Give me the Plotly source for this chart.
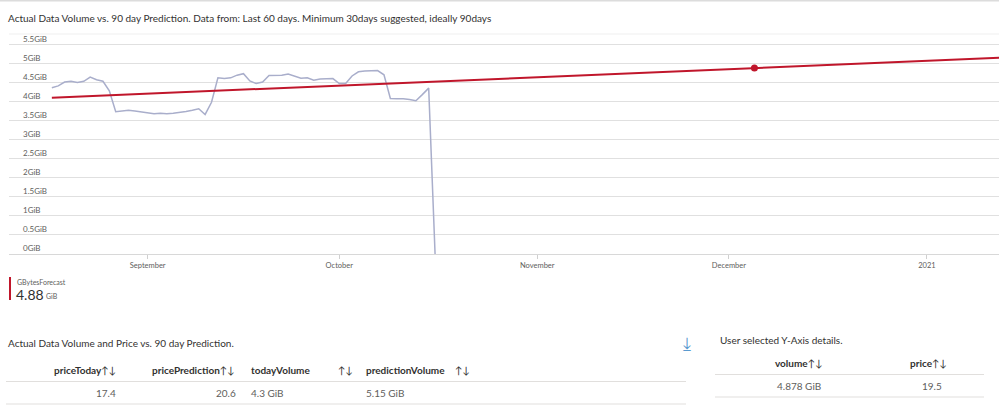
import pandas as pd
import plotly.graph_objects as go

# ---------------- data ----------------
actual_dates = pd.date_range("2020-08-17", periods=61, freq="D")
actual_gib = [4.36, 4.41, 4.51, 4.53, 4.50, 4.53, 4.64, 4.57, 4.53, 4.28,
              3.73, 3.74, 3.77, 3.75, 3.73, 3.70, 3.68, 3.69, 3.68, 3.69,
              3.71, 3.74, 3.77, 3.81, 3.66, 3.98, 4.62, 4.60, 4.62, 4.69,
              4.73, 4.54, 4.47, 4.51, 4.68, 4.69, 4.69, 4.72, 4.66, 4.61,
              4.62, 4.56, 4.59, 4.60, 4.60, 4.47, 4.47, 4.67, 4.78, 4.80,
              4.80, 4.81, 4.70, 4.08, 4.07, 4.07, 4.05, 4.02, 4.18, 4.35, 0.0]

forecast_dates = ["2020-08-17", "2021-01-13"]
forecast_gib = [4.10, 5.15]

selected_date = ["2020-12-05"]
selected_gib = [4.88]

y_tick_vals = [0, 0.5, 1, 1.5, 2, 2.5, 3, 3.5, 4, 4.5, 5, 5.5]
y_tick_text = ["0GiB", "0.5GiB", "1GiB", "1.5GiB", "2GiB", "2.5GiB", "3GiB",
               "3.5GiB", "4GiB", "4.5GiB", "5GiB", "5.5GiB"]
x_tick_vals = ["2020-09-01", "2020-10-01", "2020-11-01", "2020-12-01", "2021-01-01"]
x_tick_text = ["September", "October", "November", "December", "2021"]

chart_title = ("Actual Data Volume vs. 90 day Prediction. Data from: Last 60 days. "
               "Minimum 30days suggested, ideally 90days")
legend_name = "GBytesForecast"
legend_value = "4.88"
legend_unit = "GiB"

table1_title = "Actual Data Volume and Price vs. 90 day Prediction."
table1_headers = ["priceToday", "pricePrediction", "todayVolume", "predictionVolume"]
table1_values = ["17.4", "20.6", "4.3 GiB", "5.15 GiB"]

table2_title = "User selected Y-Axis details."
table2_headers = ["volume", "price"]
table2_values = ["4.878 GiB", "19.5"]

# ---------------- layout helpers ----------------
W, H = 999, 418
L, R, T, B = 9, 0, 28, 164
PW, PH = W - L - R, H - T - B
Y_MAX = 5.5 * PH / (H - B - 44.3)

def px(x):
    return (x - L) / PW

def py(y):
    return (H - B - y) / PH

FONT = "Lato, Open Sans, sans-serif"
DARK = "#323130"
GREY = "#605e5c"
LINE = "#e1dfdd"

fig = go.Figure()
fig.add_trace(go.Scatter(x=actual_dates, y=actual_gib, mode="lines",
                         line=dict(color="#a9aecb", width=1.5),
                         hoverinfo="skip", showlegend=False))
fig.add_trace(go.Scatter(x=forecast_dates, y=forecast_gib, mode="lines",
                         line=dict(color="#c0162b", width=2),
                         hoverinfo="skip", showlegend=False))
fig.add_trace(go.Scatter(x=selected_date, y=selected_gib, mode="markers",
                         marker=dict(color="#c0162b", size=7),
                         hoverinfo="skip", showlegend=False))

ann = []
def text(x, y, s, size, color=DARK, xanchor="left", weight=None, family=FONT):
    if weight:
        s = "<b>" + s + "</b>"
    ann.append(dict(x=px(x), y=py(y), xref="paper", yref="paper", text=s,
                    showarrow=False, xanchor=xanchor, yanchor="middle",
                    font=dict(size=size, color=color, family=family)))

shapes = []
def hline(x0, x1, y, color=LINE, width=1):
    shapes.append(dict(type="line", xref="paper", yref="paper",
                       x0=px(x0), x1=px(x1), y0=py(y), y1=py(y),
                       line=dict(color=color, width=width)))

# top border of page
hline(0, W, 0.5, color="#dcdcdc", width=2)
# faint top edge of chart
hline(L, W, 34, color="#efefef", width=1)
# title
text(6, 18, chart_title, 10)

# legend
shapes.append(dict(type="rect", xref="paper", yref="paper",
                   x0=px(9), x1=px(11), y0=py(277), y1=py(300),
                   fillcolor="#c0162b", line=dict(width=0)))
text(15, 282, legend_name, 7, color=GREY)
text(14, 294, legend_value, 14, color=DARK)
text(44, 295.5, legend_unit, 7, color=GREY)

# table 1
arrows = "<span style='font-size:10px;font-weight:normal'>↑↓</span>"
text(6, 343, table1_title, 10)
text(118, 370, "<b>" + table1_headers[0] + "</b>" + arrows, 10, xanchor="right")
text(237, 370, "<b>" + table1_headers[1] + "</b>" + arrows, 10, xanchor="right")
text(249, 370, table1_headers[2], 10, xanchor="left", weight=True)
text(336, 370, "↑↓", 10, xanchor="left")
text(364, 370, table1_headers[3], 10, xanchor="left", weight=True)
text(453, 370, "↑↓", 10, xanchor="left")
hline(6, 686, 381.5)
text(118, 393, table1_values[0], 10, color=GREY, xanchor="right")
text(238, 393, table1_values[1], 10, color=GREY, xanchor="right")
text(249, 393, table1_values[2], 10, color=GREY, xanchor="left")
text(364, 393, table1_values[3], 10, color=GREY, xanchor="left")
hline(6, 686, 404)

# download icon
text(687, 343, "⤓", 18, color="#5a9bd0", xanchor="center", family="DejaVu Sans")

# table 2
text(718, 340, table2_title, 10)
text(825, 363, "<b>" + table2_headers[0] + "</b>" + arrows, 10, xanchor="right")
text(949, 363, "<b>" + table2_headers[1] + "</b>" + arrows, 10, xanchor="right")
hline(715, 984, 374.5)
text(823, 386, table2_values[0], 10, color=GREY, xanchor="right")
text(944, 386, table2_values[1], 10, color=GREY, xanchor="right")
hline(715, 984, 397)

fig.update_layout(
    width=W, height=H, autosize=False,
    margin=dict(l=L, r=R, t=T, b=B, pad=0),
    paper_bgcolor="white", plot_bgcolor="white",
    font=dict(family=FONT, color=DARK),
    annotations=ann, shapes=shapes,
    hovermode=False,
    xaxis=dict(range=["2020-08-10 07:00", "2021-01-12 07:00"],
               tickvals=x_tick_vals, ticktext=x_tick_text,
               showgrid=False, zeroline=False, showline=False,
               ticks="outside", ticklen=4, tickcolor="#d0d0d0",
               tickfont=dict(size=7.5, color=GREY)),
    yaxis=dict(range=[0, Y_MAX], tickvals=y_tick_vals, ticktext=y_tick_text,
               ticklabelposition="inside top", ticklabelstandoff=11,
               showgrid=True, gridcolor="#e0e0e0", gridwidth=1,
               zeroline=True, zerolinecolor="#d8d8d8", zerolinewidth=1,
               showline=False, ticks="",
               tickfont=dict(size=8, color=GREY)),
)

fig.write_html("out.html", config={"displayModeBar": False, "staticPlot": True},
               post_script=["document.body.style.margin='0';"])
